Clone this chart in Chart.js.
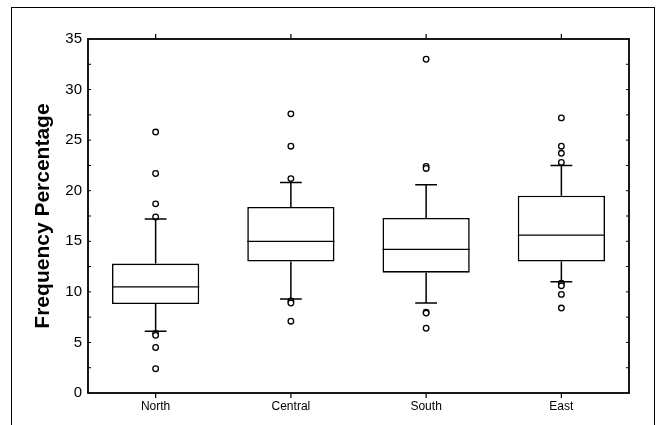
<!DOCTYPE html>
<html>
<head>
<meta charset="utf-8">
<script src="https://cdn.jsdelivr.net/npm/chart.js@4.4.0/dist/chart.umd.min.js"></script>
<style>
    html, body { margin: 0; padding: 0; background: #fff; }
    #wrap { position: relative; width: 660px; height: 425px; }
    #moldura {
        position: absolute; left: 11px; top: 7px; width: 642px; height: 430px;
        border: 1.5px solid #000; pointer-events: none;
    }
</style>
</head>
<body>
<div id="wrap">
    <canvas id="grafico" width="660" height="425"></canvas>
    <div id="moldura"></div>
</div>
<script>
// dados
var categorias = ['North', 'Central', 'South', 'East']
var quartil1 = [8.8, 13.0, 11.9, 13.0]
var mediana = [10.5, 15.0, 14.2, 15.6]
var quartil3 = [12.8, 18.4, 17.3, 19.5]
var bigodeInf = [6.1, 9.3, 8.9, 11.0]
var bigodeSup = [17.2, 20.8, 20.6, 22.5]
var outliersNorth = [25.8, 21.7, 18.7, 17.4, 5.9, 5.7, 4.5, 2.4]
var outliersCentral = [27.6, 24.4, 21.2, 9.1, 8.9, 7.1]
var outliersSouth = [33.0, 22.4, 22.2, 8.0, 7.9, 6.4]
var outliersEast = [27.2, 24.4, 23.7, 22.8, 10.85, 10.6, 9.75, 8.4]
var yTicks = [0, 5, 10, 15, 20, 25, 30, 35]

Chart.defaults.font.family = "'Liberation Sans', Arial, sans-serif"
Chart.defaults.color = '#000'

/**
* @description: desenha bigodes, medianas, moldura e marcas dos eixos
*/
var pluginCaixas = {
    id: 'caixas',
    afterDatasetsDraw: function(chart){
        var ctx = chart.ctx
        var a = chart.chartArea
        var x = chart.scales.x
        var y = chart.scales.y
        var meta = chart.getDatasetMeta(0)

        ctx.save()
        ctx.strokeStyle = '#000'

        categorias.forEach(function(cat, i){
            var cx = x.getPixelForValue(i)
            var larg = meta.data[i].width
            var cap = larg * 0.125

            ctx.lineWidth = 1.5
            ctx.beginPath()
            ctx.moveTo(cx, y.getPixelForValue(quartil3[i]))
            ctx.lineTo(cx, y.getPixelForValue(bigodeSup[i]))
            ctx.moveTo(cx, y.getPixelForValue(quartil1[i]))
            ctx.lineTo(cx, y.getPixelForValue(bigodeInf[i]))
            ctx.moveTo(cx - cap, y.getPixelForValue(bigodeSup[i]))
            ctx.lineTo(cx + cap, y.getPixelForValue(bigodeSup[i]))
            ctx.moveTo(cx - cap, y.getPixelForValue(bigodeInf[i]))
            ctx.lineTo(cx + cap, y.getPixelForValue(bigodeInf[i]))
            ctx.stroke()

            ctx.lineWidth = 1.2
            ctx.beginPath()
            ctx.moveTo(cx - larg / 2, y.getPixelForValue(mediana[i]))
            ctx.lineTo(cx + larg / 2, y.getPixelForValue(mediana[i]))
            ctx.stroke()

            // marcas das categorias em cima e embaixo
            ctx.lineWidth = 1.2
            ctx.beginPath()
            ctx.moveTo(cx, a.bottom)
            ctx.lineTo(cx, a.bottom + 5)
            ctx.moveTo(cx, a.top)
            ctx.lineTo(cx, a.top - 5)
            ctx.stroke()
        })

        // marcas menores nos lados esquerdo e direito
        ctx.lineWidth = 1
        for(var v = 2.5; v < 35; v += 2.5){
            var py = y.getPixelForValue(v)
            ctx.beginPath()
            ctx.moveTo(a.left, py)
            ctx.lineTo(a.left + 3, py)
            ctx.moveTo(a.right, py)
            ctx.lineTo(a.right - 3, py)
            ctx.stroke()
        }

        // moldura da area do grafico
        ctx.lineWidth = 1.8
        ctx.strokeRect(a.left, a.top, a.right - a.left, a.bottom - a.top)
        ctx.restore()
    }
}

function pontos(lista, cat){
    return lista.map(function(v){ return { x: cat, y: v } })
}

var outliers = []
    .concat(pontos(outliersNorth, 'North'))
    .concat(pontos(outliersCentral, 'Central'))
    .concat(pontos(outliersSouth, 'South'))
    .concat(pontos(outliersEast, 'East'))

new Chart(document.getElementById('grafico').getContext('2d'), {
    type: 'bar',
    data: {
        labels: categorias,
        datasets: [
            {
                label: 'Caixas',
                data: quartil1.map(function(q, i){ return [q, quartil3[i]] }),
                backgroundColor: '#fff',
                borderColor: '#000',
                borderWidth: 1.6,
                borderSkipped: false,
                barPercentage: 0.645,
                categoryPercentage: 1,
                grouped: false,
                order: 2
            },
            {
                type: 'scatter',
                label: 'Outliers',
                data: outliers,
                pointRadius: 2.8,
                pointBackgroundColor: '#fff',
                pointBorderColor: '#000',
                pointBorderWidth: 1.3,
                order: 1
            }
        ]
    },
    options: {
        responsive: false,
        animation: false,
        layout: { padding: { left: 12, top: 39, right: 31, bottom: 0 } },
        plugins: {
            legend: { display: false },
            tooltip: { enabled: false }
        },
        scales: {
            x: {
                type: 'category',
                offset: true,
                grid: { display: false, drawTicks: false },
                border: { display: false },
                ticks: { font: { size: 12 }, padding: 6, color: '#000' },
                afterFit: function(s){ s.height = 32 }
            },
            y: {
                min: 0,
                max: 35,
                grid: { display: false, drawTicks: false },
                border: { display: false },
                afterBuildTicks: function(s){ s.ticks = yTicks.map(function(v){ return { value: v } }) },
                ticks: { font: { size: 15 }, padding: 6, color: '#000' },
                title: {
                    display: true,
                    text: 'Frequency Percentage',
                    font: { size: 21, weight: 'bold' },
                    color: '#000',
                    padding: { top: 19, bottom: 0 }
                },
                afterFit: function(s){ s.width = 76 }
            }
        }
    },
    plugins: [pluginCaixas]
})
</script>
</body>
</html>
